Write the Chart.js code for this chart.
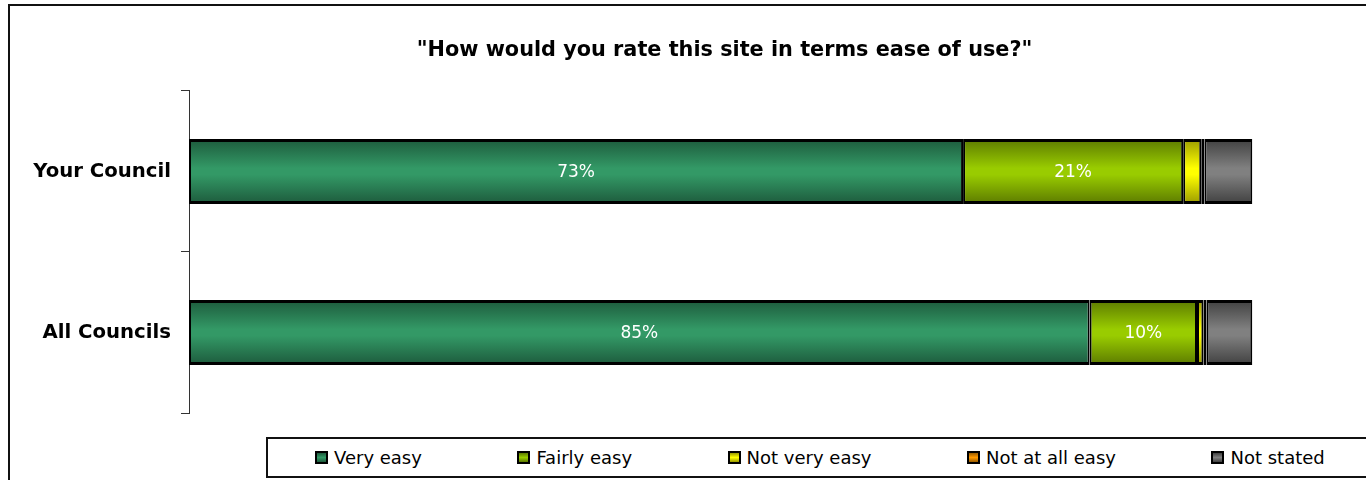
<!DOCTYPE html>
<html>
<head>
<meta charset="utf-8">
<title>Ease of use</title>
<script src="https://cdn.jsdelivr.net/npm/chart.js@4/dist/chart.umd.min.js"></script>
<style>
  body { margin: 0; background: #fff; overflow: hidden; width: 1366px; height: 480px; position: relative; }
  #chart { position: absolute; left: 0; top: 0; }
  .frame { position: absolute; left: 8px; top: 4px; width: 2000px; height: 1000px;
           border-left: 2px solid #111; border-top: 2px solid #111; pointer-events: none; }
  #legend { position: absolute; left: 266px; top: 437px; width: 1200px; height: 41px;
            border: 2px solid #111; box-sizing: border-box; background: #fff;
            display: flex; align-items: center; padding-left: 47px;
            font-family: "DejaVu Sans", sans-serif; font-size: 18px; color: #000; }
  .item { display: flex; align-items: center; margin-right: 95.5px; white-space: nowrap; }
  .swatch { width: 13px; height: 13px; box-sizing: border-box; border: 2px solid #000; margin-right: 6px; }
</style>
</head>
<body>
<!-- the original chart is wider than the window, the right part is cut off -->
<canvas id="chart" width="1449" height="480"></canvas>
<div class="frame"></div>
<div id="legend"></div>
<script>
// survey results, percent of respondents
const categories = ['Your Council', 'All Councils'];
const seriesNames = ['Very easy', 'Fairly easy', 'Not very easy', 'Not at all easy', 'Not stated'];
const veryEasy = [72.8, 84.7];
const fairlyEasy = [20.7, 10.1];
const notVeryEasy = [1.7, 0.6];
const notAtAllEasy = [0.3, 0.3];
const notStated = [4.5, 4.3];

const baseColors = ['#339966', '#99cc00', '#ffff00', '#ff9900', '#808080'];
const darkColors = ['#1d5a3c', '#5c7a00', '#9a9a00', '#9a5c00', '#404040'];

const BAR_PCT = 0.404;

// vertical shading like the old excel bars: dark edges, light middle
function shaded(i) {
    return function (ctx) {
        const chart = ctx.chart;
        const y = chart.scales.y;
        if (!y || ctx.dataIndex === undefined || !chart.chartArea) return baseColors[i];
        const c = y.getPixelForValue(ctx.dataIndex);
        const half = chart.chartArea.height / categories.length * BAR_PCT / 2;
        const g = chart.ctx.createLinearGradient(0, c - half, 0, c + half);
        g.addColorStop(0, darkColors[i]);
        g.addColorStop(0.45, baseColors[i]);
        g.addColorStop(0.55, baseColors[i]);
        g.addColorStop(1, darkColors[i]);
        return g;
    };
}

const values = [veryEasy, fairlyEasy, notVeryEasy, notAtAllEasy, notStated];

const datasets = seriesNames.map((name, i) => ({
    label: name,
    data: values[i],
    backgroundColor: shaded(i),
    borderColor: '#000',
    borderWidth: { top: 3, bottom: 3, left: 2, right: 2 },
    borderSkipped: false,
    inflateAmount: 0,
    barPercentage: BAR_PCT,
    categoryPercentage: 1
}));

// percent labels inside the wide segments
const segmentLabels = {
    id: 'segmentLabels',
    afterDatasetsDraw(chart) {
        const ctx = chart.ctx;
        ctx.save();
        ctx.fillStyle = '#fff';
        ctx.font = '17px "DejaVu Sans", sans-serif';
        ctx.textAlign = 'center';
        ctx.textBaseline = 'middle';
        chart.data.datasets.forEach((ds, di) => {
            chart.getDatasetMeta(di).data.forEach((bar, j) => {
                const v = ds.data[j];
                if (v < 8) return;
                const p = bar.getCenterPoint();
                ctx.fillText(Math.round(v) + '%', p.x, p.y + 1);
            });
        });
        ctx.restore();
    }
};

const chart = new Chart(document.getElementById('chart'), {
    type: 'bar',
    data: { labels: categories, datasets: datasets },
    options: {
        indexAxis: 'y',
        responsive: false,
        devicePixelRatio: 1,
        animation: false,
        layout: { padding: { left: 0, right: 0, top: 0, bottom: 67 } },
        plugins: {
            legend: { display: false },
            tooltip: { enabled: false },
            title: {
                display: true,
                text: '"How would you rate this site in terms ease of use?"',
                color: '#000',
                font: { family: '"DejaVu Sans", sans-serif', size: 20.8, weight: 'bold' },
                padding: { top: 38, bottom: 28 }
            }
        },
        scales: {
            // plot area stops short of the right edge, 100% sits at about x=1252
            x: { stacked: true, min: 0, max: 118.5, display: false },
            y: {
                stacked: true,
                afterFit: function (scale) { scale.width = 189; },
                grid: { offset: true, drawOnChartArea: false, color: '#333', tickLength: 8 },
                border: { display: true, color: '#333', width: 1 },
                ticks: {
                    color: '#000',
                    padding: 10,
                    font: { family: '"DejaVu Sans", sans-serif', size: 19.7, weight: 'bold' }
                }
            }
        }
    },
    plugins: [segmentLabels]
});

// legend built from the chart's own datasets
const legendEl = document.getElementById('legend');
chart.data.datasets.forEach((ds, i) => {
    const item = document.createElement('div');
    item.className = 'item';
    const sw = document.createElement('span');
    sw.className = 'swatch';
    sw.style.background = 'linear-gradient(' + darkColors[i] + ', ' + baseColors[i] + ', ' + darkColors[i] + ')';
    const txt = document.createElement('span');
    txt.textContent = ds.label;
    item.appendChild(sw);
    item.appendChild(txt);
    legendEl.appendChild(item);
});
</script>
</body>
</html>
